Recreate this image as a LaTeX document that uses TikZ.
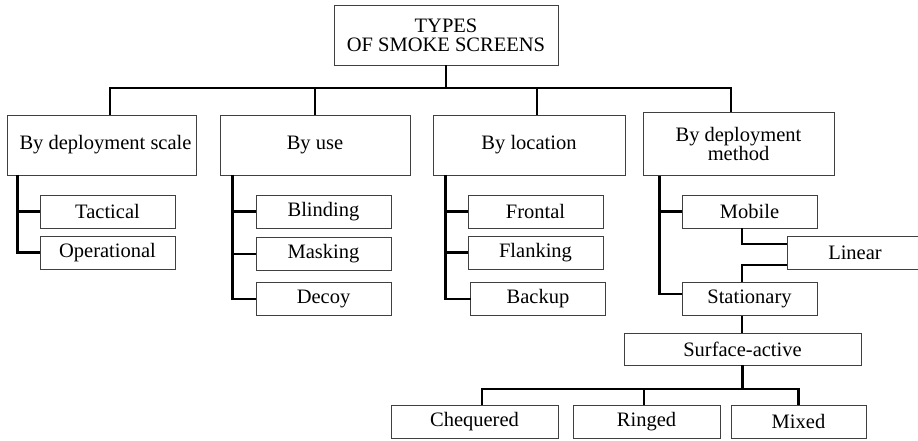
\documentclass[tikz,border=0pt]{standalone}
\usepackage{fontspec}
\setmainfont{Liberation Serif}
\usetikzlibrary{positioning}

\begin{document}
\begin{tikzpicture}[x=1pt, y=-1pt,
    box/.style={draw=black!75, line width=0.9pt, inner sep=0pt, align=center,
        font=\fontsize{20.5}{19}\selectfont},
    bigbox/.style={box, minimum height=60pt},
    smallbox/.style={box, minimum height=33pt},
    link/.style={draw, line width=2.4pt}]
    \useasboundingbox (0,0) rectangle (918,440);

    % root
    \node[bigbox, minimum width=224pt] (types) at (446,35) {TYPES\\ OF SMOKE SCREENS};

    % first level
    \node[bigbox, minimum width=189pt] (scale) at (101.5,145) {\hspace*{8pt}By deployment scale};
    \node[bigbox, minimum width=190pt] (use) at (315,145) {By use};
    \node[bigbox, minimum width=192pt] (location) at (529,145) {By location};
    \node[bigbox, minimum width=191pt, minimum height=63pt] (method) at (738.5,144) {By deployment\\ method};

    % second level
    \node[smallbox, minimum width=135pt] (tactical) at (107.5,211.5) {Tactical};
    \node[smallbox, minimum width=135pt] (operational) at (107.5,252.5) {Operational};

    \node[smallbox, minimum width=135pt] (blinding) at (323.5,211.5) {Blinding};
    \node[smallbox, minimum width=135pt] (masking) at (323.5,254) {Masking};
    \node[smallbox, minimum width=135pt] (decoy) at (323.5,299) {Decoy};

    \node[smallbox, minimum width=135pt] (frontal) at (535.5,211.5) {Frontal};
    \node[smallbox, minimum width=135pt] (flanking) at (535.5,252.5) {Flanking};
    \node[smallbox, minimum width=135pt] (backup) at (538,299) {Backup};

    \node[smallbox, minimum width=135pt] (mobile) at (749.5,211.5) {Mobile};
    \node[smallbox, minimum width=135pt] (stationary) at (749.5,299) {Stationary};
    \node[smallbox, minimum width=136pt] (linear) at (855,252.5) {Linear};

    \node[box, minimum width=237pt, minimum height=32pt] (surface) at (742.5,349) {Surface-active};

    % third level
    \node[smallbox, minimum width=167pt] (chequered) at (474.5,421.5) {Chequered};
    \node[smallbox, minimum width=147pt] (ringed) at (646.5,421.5) {Ringed};
    \node[smallbox, minimum width=135pt] (mixed) at (798.5,421.5) {Mixed};

    % connectors
    \coordinate (bus) at (446,88);
    \draw[link] (types.south) -- (bus);
    \draw[link] ([xshift=8.5]scale.north) |- (bus) -| ([xshift=-7.5]method.north);
    \draw[link] (use.north) |- (bus);
    \draw[link] ([xshift=8]location.north) |- (bus);

    \draw[link] ([xshift=11]scale.south west) |- (tactical.west);
    \draw[link] ([xshift=11]scale.south west) |- (operational.west);

    \draw[link] ([xshift=13]use.south west) |- (blinding.west);
    \draw[link] ([xshift=13]use.south west) |- (masking.west);
    \draw[link] ([xshift=13]use.south west) |- (decoy.west);

    \draw[link] ([xshift=13]location.south west) |- (frontal.west);
    \draw[link] ([xshift=13]location.south west) |- (flanking.west);
    \draw[link] ([xshift=13]location.south west) |- ([xshift=1]backup.west);

    \draw[link] ([xshift=17]method.south west) |- (mobile.west);
    \draw[link] ([xshift=17]method.south west) |- ([yshift=5]stationary.west);

    \draw[link] ([xshift=-7.5]mobile.south) |- ([yshift=8.5]linear.west);
    \draw[link] ([yshift=-12.5]linear.west) -| ([xshift=-7.5]stationary.north);
    \draw[link] ([xshift=-7.5]stationary.south) -- ([xshift=-0.5]surface.north);

    \coordinate (sbus) at (742.5,389);
    \draw[link] (surface.south) -- (sbus);
    \draw[link] ([xshift=7.5]chequered.north) |- (sbus) -| (mixed.north);
    \draw[link] ([xshift=-2.5]ringed.north) |- (sbus);
\end{tikzpicture}
\end{document}
